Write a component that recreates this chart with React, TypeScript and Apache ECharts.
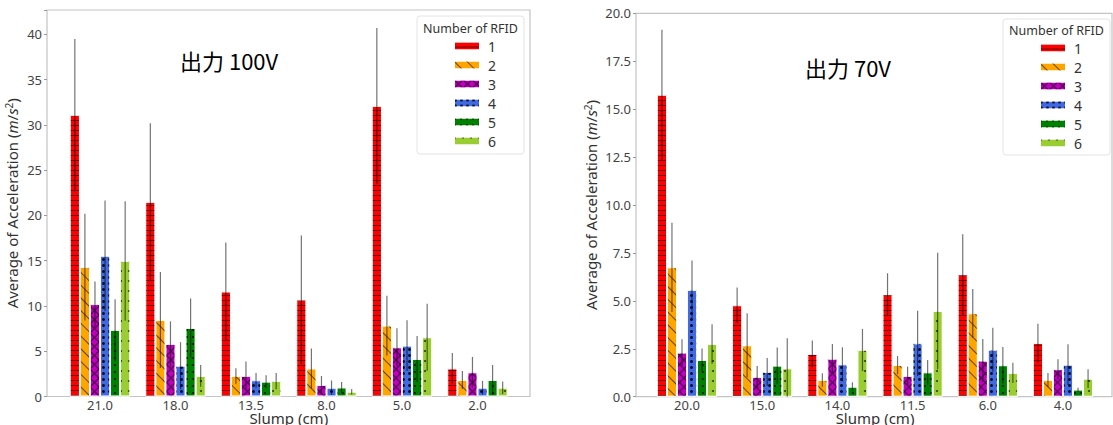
import React, { useEffect, useRef } from "react";
import * as echarts from "echarts";

// ---------- DATA ----------
const rfidNames = ["1", "2", "3", "4", "5", "6"];

// Left chart: 出力 100V
const slumpLeft = ["21.0", "18.0", "13.5", "8.0", "5.0", "2.0"];
const meanLeft: number[][] = [
  [31.1, 21.5, 11.6, 10.7, 32.1, 3.1],
  [14.3, 8.45, 2.27, 3.1, 7.83, 1.82],
  [10.2, 5.8, 2.27, 1.27, 5.43, 2.67],
  [15.55, 3.4, 1.79, 0.97, 5.62, 0.97],
  [7.35, 7.57, 1.64, 1.0, 4.14, 1.82],
  [14.97, 2.27, 1.71, 0.53, 6.54, 0.97],
];
const stdLeft: number[][] = [
  [8.4, 8.7, 5.4, 7.1, 8.6, 1.7],
  [5.9, 5.3, 0.85, 2.2, 3.3, 1.0],
  [2.5, 2.5, 1.6, 1.0, 2.1, 1.7],
  [6.1, 2.6, 0.8, 0.8, 2.8, 0.75],
  [3.4, 3.25, 0.7, 0.6, 2.55, 1.65],
  [6.6, 1.2, 0.9, 0.3, 3.7, 0.7],
];

// Right chart: 出力 70V
const slumpRight = ["20.0", "15.0", "14.0", "11.5", "6.0", "4.0"];
const meanRight: number[][] = [
  [15.74, 4.77, 2.23, 5.34, 6.38, 2.8],
  [6.75, 2.68, 0.87, 1.65, 4.35, 0.87],
  [2.3, 1.03, 1.98, 1.08, 1.88, 1.43],
  [5.57, 1.29, 1.69, 2.78, 2.45, 1.67],
  [1.91, 1.62, 0.52, 1.27, 1.64, 0.37],
  [2.75, 1.48, 2.44, 4.47, 1.24, 0.94],
];
const stdRight: number[][] = [
  [3.4, 0.92, 0.7, 1.1, 2.1, 1.0],
  [2.33, 1.67, 0.35, 0.47, 1.27, 0.37],
  [0.7, 0.57, 0.77, 0.49, 1.13, 0.52],
  [1.53, 0.73, 0.89, 1.7, 1.15, 1.06],
  [0.6, 0.94, 0.23, 0.64, 0.95, 0.1],
  [1.03, 1.57, 1.1, 3.04, 0.53, 0.49],
];

// ---------- STYLE ----------
const colors = ["#ff0000", "#ffa500", "#bf00bf", "#4169e1", "#008000", "#9acd32"];
const decals: any[] = [
  { symbol: "rect", symbolSize: 1, dashArrayX: [1, 0], dashArrayY: [1, 4], rotation: 0, color: "rgba(0,0,0,0.55)" },
  { symbol: "rect", symbolSize: 1, dashArrayX: [1, 0], dashArrayY: [1, 8], rotation: Math.PI / 4, color: "rgba(0,0,0,0.6)" },
  {
    symbol: "path://M0,0 L1,0 L10,9 L10,10 L9,10 L0,1 Z M9,0 L10,0 L10,1 L1,10 L0,10 L0,9 Z",
    symbolSize: 1, dashArrayX: [9, 0], dashArrayY: [9, 0], rotation: 0, color: "rgba(0,0,0,0.55)",
  },
  { symbol: "circle", symbolSize: 1, dashArrayX: [3, 2.5], dashArrayY: [3, 3], rotation: 0, color: "rgba(0,0,0,0.85)" },
  { symbol: "circle", symbolSize: 1, dashArrayX: [2, 4], dashArrayY: [2, 5], rotation: 0, color: "rgba(0,0,0,0.8)" },
  { symbol: "circle", symbolSize: 1, dashArrayX: [1.5, 6], dashArrayY: [1.5, 8], rotation: 0, color: "rgba(0,0,0,0.7)" },
];

const FONT = "Noto Sans";

function buildBars(means: number[][], axis: number) {
  return rfidNames.map((name, k) => ({
    name,
    type: "bar",
    xAxisIndex: axis,
    yAxisIndex: axis,
    data: means[k],
    barGap: "0%",
    barCategoryGap: "20%",
    itemStyle: { color: colors[k], borderColor: "#ffffff", borderWidth: 0.8, decal: decals[k] },
    emphasis: { disabled: true },
  }));
}

function buildErrors(means: number[][], stds: number[][], axis: number) {
  const data: number[][] = [];
  means.forEach((row, k) => row.forEach((m, c) => data.push([c, k, m, stds[k][c]])));
  return {
    type: "custom",
    xAxisIndex: axis,
    yAxisIndex: axis,
    z: 10,
    silent: true,
    encode: { x: 0, y: 2 },
    data,
    renderItem: (params: any, api: any) => {
      const c = api.value(0);
      const k = api.value(1);
      const m = api.value(2);
      const s = api.value(3);
      const band = api.size([1, 0])[0];
      const barW = (band * 0.8) / 6;
      const p = api.coord([c, m]);
      const x = p[0] + (k - 2.5) * barW;
      const yTop = api.coord([c, m + s])[1];
      const yBot = api.coord([c, Math.max(m - s, 0)])[1];
      return {
        type: "line",
        shape: { x1: x, y1: yTop, x2: x, y2: yBot },
        style: { stroke: "rgba(0,0,0,0.55)", lineWidth: 1.2 },
      };
    },
  };
}

const yName = "Average of Acceleration ({i|m}/{i|s}{sup|2})";
const yNameStyle = {
  fontFamily: FONT,
  fontSize: 15,
  color: "#333",
  rich: {
    i: { fontFamily: FONT, fontSize: 15, fontStyle: "italic", color: "#333" },
    sup: { fontFamily: FONT, fontSize: 10, color: "#333", verticalAlign: "top", lineHeight: 10, padding: [0, 0, 6, 0] },
  },
};

export default function App() {
  const ref = useRef<HTMLDivElement>(null);
  useEffect(() => {
    if (!ref.current) return;
    const chart = echarts.init(ref.current, undefined, { renderer: "svg" });

    const frames = [
      { x: 47, y: 10, w: 483, h: 386.5 },
      { x: 636, y: 13.3, w: 476, h: 383.4 },
    ];

    const xName = {
      name: "Slump (cm)", nameLocation: "middle", nameGap: 15, nameMoveOverlap: false,
      nameTextStyle: { fontFamily: FONT, fontSize: 15, color: "#333", lineHeight: 13 },
    };

    const option: any = {
      animation: false,
      aria: { enabled: true, decal: { show: true } },
      textStyle: { fontFamily: FONT },
      grid: [
        { left: 62.25, top: 10, width: 453, height: 386.5, outerBoundsMode: "none", containLabel: false },
        { left: 649.4, top: 13.3, width: 451.2, height: 383.4, outerBoundsMode: "none", containLabel: false },
      ],
      xAxis: [
        {
          type: "category", gridIndex: 0, data: slumpLeft,
          axisLine: { show: false }, axisTick: { show: false },
          axisLabel: { fontFamily: FONT, fontSize: 13, color: "#444", margin: 2, lineHeight: 12 },
          ...xName,
        },
        {
          type: "category", gridIndex: 1, data: slumpRight,
          axisLine: { show: false }, axisTick: { show: false },
          axisLabel: { fontFamily: FONT, fontSize: 13, color: "#444", margin: 2, lineHeight: 12 },
          ...xName,
        },
      ],
      yAxis: [
        {
          type: "value", gridIndex: 0, min: 0, max: 42.7, interval: 5, offset: 15.25,
          splitLine: { show: false }, axisLine: { show: false },
          axisTick: { show: true, length: 3, lineStyle: { color: "#999" } },
          axisLabel: {
            fontFamily: FONT, fontSize: 13, color: "#444", margin: 5,
            formatter: (v: number) => (Math.abs(v / 5 - Math.round(v / 5)) < 1e-6 ? String(v) : ""),
          },
          name: yName, nameLocation: "middle", nameGap: 28, nameMoveOverlap: false, nameTextStyle: yNameStyle,
        },
        {
          type: "value", gridIndex: 1, min: 0, max: 20, interval: 2.5, offset: 13.4,
          splitLine: { show: false }, axisLine: { show: false },
          axisTick: { show: true, length: 3, lineStyle: { color: "#999" } },
          axisLabel: { fontFamily: FONT, fontSize: 13, color: "#444", margin: 5, formatter: (v: number) => v.toFixed(1) },
          name: yName, nameLocation: "middle", nameGap: 38, nameMoveOverlap: false, nameTextStyle: yNameStyle,
        },
      ],
      legend: [
        {
          data: rfidNames, orient: "vertical", left: 448, top: 34, icon: "rect",
          itemWidth: 26, itemHeight: 9, itemGap: 5, selectedMode: false,
          textStyle: { fontFamily: FONT, fontSize: 14, color: "#333", lineHeight: 14, padding: [0, 0, 0, 3] },
        },
        {
          data: rfidNames, orient: "vertical", left: 1034, top: 36, icon: "rect",
          itemWidth: 26, itemHeight: 9, itemGap: 5, selectedMode: false,
          textStyle: { fontFamily: FONT, fontSize: 14, color: "#333", lineHeight: 14, padding: [0, 0, 0, 3] },
        },
      ],
      graphic: [
        ...frames.map((f) => ({
          type: "rect", silent: true, z: 0,
          shape: { x: f.x, y: f.y, width: f.w, height: f.h },
          style: { fill: "none", stroke: "#c4c4c4", lineWidth: 1.2 },
        })),
        {
          type: "rect", silent: true, z: 0,
          shape: { x: 417, y: 16, width: 107, height: 138, r: 3 },
          style: { fill: "#ffffff", stroke: "#e4e4e4", lineWidth: 1 },
        },
        {
          type: "rect", silent: true, z: 0,
          shape: { x: 1003, y: 19, width: 107, height: 136, r: 3 },
          style: { fill: "#ffffff", stroke: "#e4e4e4", lineWidth: 1 },
        },
        {
          type: "text", silent: true, z: 5, x: 470.5, y: 28,
          style: { text: "Number of RFID", fontFamily: FONT, fontSize: 12.5, fill: "#333", align: "center", verticalAlign: "middle" },
        },
        {
          type: "text", silent: true, z: 5, x: 1056.5, y: 30,
          style: { text: "Number of RFID", fontFamily: FONT, fontSize: 12.5, fill: "#333", align: "center", verticalAlign: "middle" },
        },
        {
          type: "text", silent: true, z: 5, x: 180, y: 60,
          style: { text: "出力 100V", fontFamily: "Noto Sans CJK JP", fontSize: 22, fill: "#000", align: "left", verticalAlign: "middle" },
        },
        {
          type: "text", silent: true, z: 5, x: 805, y: 67,
          style: { text: "出力 70V", fontFamily: "Noto Sans CJK JP", fontSize: 22, fill: "#000", align: "left", verticalAlign: "middle" },
        },
      ],
      series: [
        ...buildBars(meanLeft, 0),
        ...buildBars(meanRight, 1),
        buildErrors(meanLeft, stdLeft, 0),
        buildErrors(meanRight, stdRight, 1),
      ],
    };
    chart.setOption(option);
    return () => chart.dispose();
  }, []);

  return (
    <div
      ref={ref}
      style={{ position: "absolute", left: 0, top: 0, width: 1113, height: 425, background: "#fff" }}
    />
  );
}
